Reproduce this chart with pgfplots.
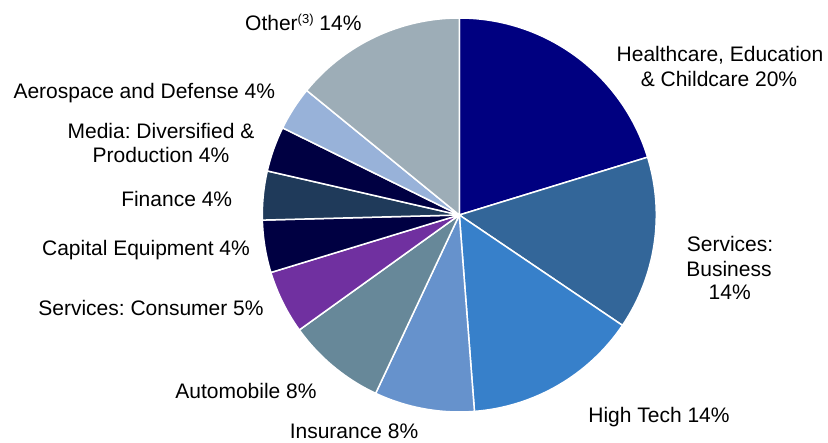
\documentclass[border=0pt]{standalone}
\usepackage{fontspec}
\setmainfont{Liberation Sans}
\usepackage{pgfplots}
\usepackage{pgfplotstable}
\pgfplotsset{compat=1.18}
\frenchspacing

% slice colours, clockwise from 12 o'clock
\definecolor{slice0}{HTML}{000080}
\definecolor{slice1}{HTML}{336699}
\definecolor{slice2}{HTML}{3780CA}
\definecolor{slice3}{HTML}{6692CC}
\definecolor{slice4}{HTML}{678899}
\definecolor{slice5}{HTML}{7030A0}
\definecolor{slice6}{HTML}{000042}
\definecolor{slice7}{HTML}{1F3A5A}
\definecolor{slice8}{HTML}{000042}
\definecolor{slice9}{HTML}{98B2D9}
\definecolor{slice10}{HTML}{9DADB7}

% shares in percent: Healthcare, Services Business, High Tech, Insurance,
% Automobile, Services Consumer, Capital Equipment, Finance, Media,
% Aerospace, Other
\pgfplotstableread{
value
20.25
14.2
14.3
8.2
8.1
5.2
4.3
4.0
3.7
3.6
14.1
}\piedata

\newcommand\lblfont{\fontsize{21pt}{25pt}\selectfont}
\tikzset{lbl/.style={font=\lblfont, inner sep=0pt, anchor=base}}

\begin{document}
\begin{tikzpicture}
\pgfplotstablegetrowsof{\piedata}
\pgfmathtruncatemacro\nslices{\pgfplotsretval-1}
\xdef\pietotal{0}
\foreach \i in {0,...,\nslices}{
  \pgfplotstablegetelem{\i}{value}\of\piedata
  \pgfmathsetmacro\t{\pietotal+\pgfplotsretval}
  \xdef\pietotal{\t}
}
\xdef\pieacc{90}
\foreach \i in {0,...,\nslices}{
  \pgfplotstablegetelem{\i}{value}\of\piedata
  \pgfmathsetmacro\pieend{\pieacc-360*\pgfplotsretval/\pietotal}
  \expandafter\xdef\csname pieS\i\endcsname{\pieacc}
  \expandafter\xdef\csname pieE\i\endcsname{\pieend}
  \xdef\pieacc{\pieend}
}
\begin{axis}[width=828pt, height=443pt, scale only axis, hide axis,
             xmin=0, xmax=828, ymin=0, ymax=443, clip=false,
             at={(0,0)}, anchor=south west]
\path (axis cs:0,0) (axis cs:828,443);
\pgfplotsinvokeforeach{0,...,10}{
  \filldraw[fill=slice#1, draw=white, line width=1.5pt, line join=round]
    (axis cs:459.3,228) -- ++(\csname pieS#1\endcsname:197pt)
    arc[start angle=\csname pieS#1\endcsname, end angle=\csname pieE#1\endcsname, radius=197pt]
    -- cycle;
}
\node[lbl] at (axis cs:720,381) {Healthcare, Education};
\node[lbl] at (axis cs:719,356.3) {\& Childcare 20\%};
\node[lbl] at (axis cs:730,191.3) {Services:};
\node[lbl] at (axis cs:729,166.3) {Business};
\node[lbl] at (axis cs:729.7,143) {14\%};
\node[lbl] at (axis cs:659,20.7) {High Tech 14\%};
\node[lbl] at (axis cs:354,4.7) {Insurance 8\%};
\node[lbl] at (axis cs:246,44.7) {Automobile 8\%};
\node[lbl] at (axis cs:151,127) {Services: Consumer 5\%};
\node[lbl] at (axis cs:146,187) {Capital Equipment 4\%};
\node[lbl] at (axis cs:176.7,236.3) {Finance 4\%};
\node[lbl] at (axis cs:161,304.7) {Media: Diversified \&};
\node[lbl] at (axis cs:161,280.3) {Production 4\%};
\node[lbl] at (axis cs:144.3,344.7) {Aerospace and Defense 4\%};
\node[lbl, anchor=base west] at (axis cs:245,412.3) {Other\raisebox{7pt}{\fontsize{13pt}{13pt}\selectfont(3)} 14\%};
\end{axis}
\end{tikzpicture}
\end{document}
